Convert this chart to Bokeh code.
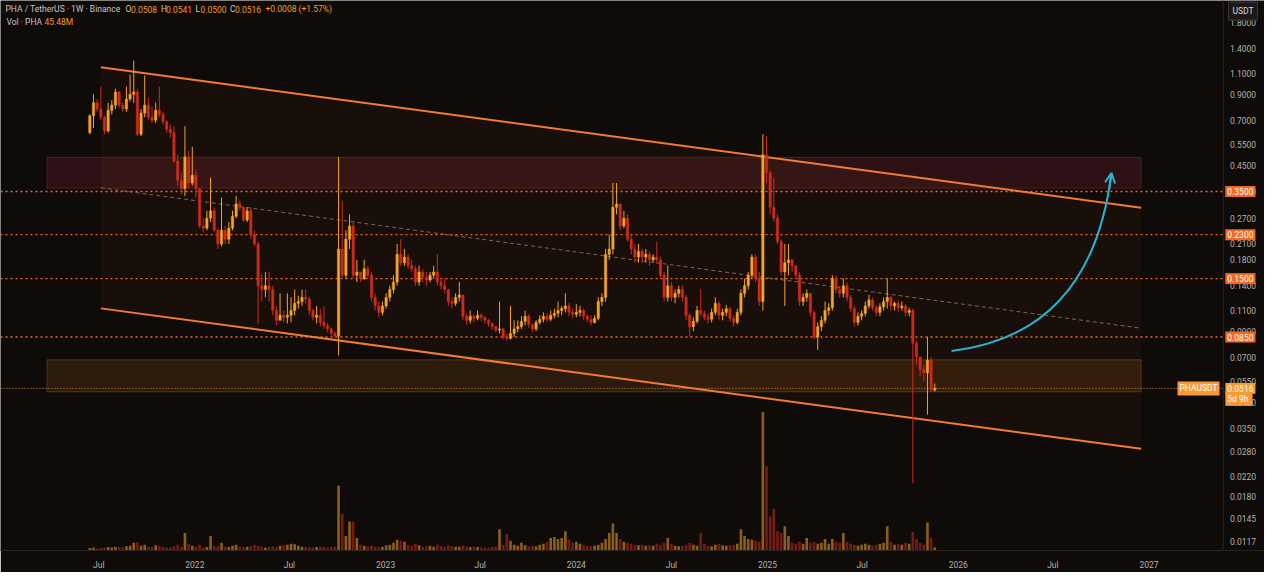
import pandas as pd
from bokeh.plotting import figure
from bokeh.models import (Range1d, FixedTicker, CustomJSTickFormatter, LinearScale,
                          Span, Label, BoxAnnotation, Arrow, OpenHead, ColumnDataSource)
from bokeh.core.properties import value
from bokeh.embed import file_html
from bokeh.resources import INLINE

# ---------------- data (weekly PHA/USDT) ----------------
FIRST_OPEN = 0.62
LAST_WEEK = "2025-11-17"

CLOSE = [
    0.73, 0.83, 0.78, 0.72, 0.63, 0.77, 0.81, 0.92, 0.81, 0.78, 0.86, 0.90,
    0.92, 0.61, 0.75, 0.81, 0.72, 0.70, 0.77, 0.74, 0.69, 0.64, 0.62, 0.47,
    0.39, 0.36, 0.49, 0.38, 0.41, 0.36, 0.25, 0.245, 0.27, 0.29, 0.24, 0.21,
    0.24, 0.22, 0.245, 0.275, 0.31, 0.30, 0.265, 0.29, 0.23, 0.21,
    0.14, 0.135, 0.14, 0.135, 0.11, 0.10, 0.105, 0.103, 0.105, 0.11, 0.118, 0.12,
    0.125, 0.123, 0.11, 0.103, 0.105, 0.098, 0.095, 0.092, 0.088, 0.086, 0.20, 0.155,
    0.22, 0.25, 0.155, 0.16, 0.15, 0.165, 0.155, 0.125, 0.115, 0.108, 0.115, 0.125,
    0.135, 0.145, 0.19, 0.175, 0.185, 0.17, 0.165, 0.145, 0.16,
    0.152, 0.148, 0.155, 0.16, 0.145, 0.14, 0.135, 0.12, 0.118, 0.125, 0.128, 0.104,
    0.10, 0.104, 0.102, 0.105, 0.103, 0.100, 0.097, 0.094, 0.091, 0.092, 0.085, 0.084,
    0.088, 0.092, 0.094, 0.099, 0.104, 0.096, 0.092, 0.098, 0.101, 0.104, 0.101, 0.105,
    0.107, 0.11, 0.112, 0.115, 0.108, 0.106, 0.108, 0.11, 0.104, 0.101, 0.098,
    0.102, 0.12, 0.125, 0.19, 0.20, 0.30, 0.31, 0.25, 0.27, 0.22, 0.20, 0.185,
    0.195, 0.185, 0.19, 0.18, 0.185, 0.18, 0.155, 0.125, 0.14, 0.125, 0.13, 0.135,
    0.125, 0.105, 0.094, 0.099, 0.11, 0.107, 0.103, 0.101, 0.108, 0.118, 0.105, 0.108,
    0.112, 0.102, 0.098, 0.108, 0.13, 0.14, 0.155, 0.185, 0.15, 0.12,
    0.50, 0.42, 0.30, 0.27, 0.215, 0.16, 0.175, 0.18, 0.17, 0.155, 0.12, 0.125,
    0.13, 0.108, 0.085, 0.094, 0.10, 0.11, 0.113, 0.15, 0.135, 0.13, 0.14, 0.125,
    0.112, 0.098, 0.104, 0.107, 0.115, 0.122, 0.113, 0.108, 0.114, 0.12, 0.125, 0.115,
    0.118, 0.113, 0.115, 0.108, 0.11, 0.080, 0.07, 0.062, 0.06, 0.068, 0.0508, 0.0516,
]

HIGH = [
    0.74, 0.90, 0.86, 0.97, 0.73, 0.83, 0.85, 0.95, 0.93, 0.83, 0.97, 1.09,
    1.25, 0.95, 0.78, 1.08, 0.87, 0.80, 0.83, 0.97, 0.76, 0.70, 0.67, 0.66,
    0.50, 0.42, 0.66, 0.52, 0.54, 0.43, 0.36, 0.27, 0.29, 0.40, 0.30, 0.245,
    0.33, 0.25, 0.26, 0.29, 0.335, 0.32, 0.30, 0.30, 0.30, 0.24,
    0.215, 0.157, 0.16, 0.16, 0.14, 0.115, 0.13, 0.11, 0.13, 0.125, 0.135, 0.127,
    0.135, 0.135, 0.126, 0.112, 0.115, 0.112, 0.115, 0.097, 0.093, 0.09, 0.49, 0.32,
    0.24, 0.28, 0.26, 0.18, 0.16, 0.18, 0.17, 0.16, 0.13, 0.12, 0.12, 0.13,
    0.14, 0.155, 0.21, 0.22, 0.20, 0.19, 0.18, 0.17, 0.17,
    0.165, 0.16, 0.16, 0.17, 0.19, 0.15, 0.15, 0.135, 0.125, 0.13, 0.145, 0.128,
    0.107, 0.11, 0.106, 0.11, 0.107, 0.104, 0.101, 0.098, 0.095, 0.12, 0.093, 0.088,
    0.115, 0.10, 0.10, 0.104, 0.11, 0.106, 0.097, 0.10, 0.105, 0.108, 0.107, 0.11,
    0.112, 0.12, 0.115, 0.13, 0.118, 0.112, 0.117, 0.115, 0.112, 0.106, 0.105,
    0.105, 0.125, 0.13, 0.20, 0.23, 0.38, 0.38, 0.31, 0.29, 0.28, 0.23, 0.21,
    0.21, 0.20, 0.20, 0.195, 0.19, 0.215, 0.185, 0.16, 0.17, 0.145, 0.135, 0.14,
    0.14, 0.128, 0.107, 0.103, 0.115, 0.135, 0.11, 0.107, 0.112, 0.125, 0.12, 0.112,
    0.116, 0.114, 0.105, 0.112, 0.135, 0.15, 0.16, 0.19, 0.19, 0.16,
    0.61, 0.60, 0.43, 0.40, 0.28, 0.22, 0.21, 0.21, 0.18, 0.17, 0.16, 0.13,
    0.135, 0.13, 0.11, 0.098, 0.104, 0.12, 0.118, 0.155, 0.155, 0.14, 0.15, 0.145,
    0.128, 0.115, 0.108, 0.11, 0.12, 0.128, 0.125, 0.116, 0.118, 0.125, 0.15, 0.127,
    0.12, 0.122, 0.12, 0.117, 0.113, 0.112, 0.082, 0.07, 0.065, 0.085, 0.07, 0.0541,
]

LOW = [
    0.61, 0.65, 0.76, 0.70, 0.61, 0.62, 0.74, 0.78, 0.79, 0.76, 0.76, 0.84,
    0.83, 0.60, 0.60, 0.72, 0.70, 0.68, 0.68, 0.72, 0.67, 0.62, 0.59, 0.46,
    0.37, 0.34, 0.335, 0.36, 0.37, 0.33, 0.245, 0.235, 0.24, 0.26, 0.235, 0.20,
    0.205, 0.21, 0.21, 0.24, 0.27, 0.29, 0.26, 0.26, 0.22, 0.205,
    0.096, 0.12, 0.125, 0.12, 0.105, 0.095, 0.10, 0.098, 0.097, 0.098, 0.105, 0.112,
    0.115, 0.118, 0.105, 0.10, 0.097, 0.094, 0.092, 0.089, 0.086, 0.084, 0.071, 0.15,
    0.15, 0.20, 0.15, 0.145, 0.145, 0.148, 0.15, 0.12, 0.11, 0.103, 0.105, 0.112,
    0.12, 0.13, 0.14, 0.17, 0.17, 0.165, 0.16, 0.14, 0.14,
    0.145, 0.14, 0.145, 0.15, 0.14, 0.135, 0.13, 0.115, 0.112, 0.115, 0.12, 0.10,
    0.096, 0.097, 0.098, 0.10, 0.099, 0.097, 0.094, 0.091, 0.089, 0.088, 0.083, 0.082,
    0.083, 0.085, 0.089, 0.092, 0.095, 0.093, 0.089, 0.09, 0.096, 0.098, 0.098, 0.099,
    0.102, 0.103, 0.105, 0.108, 0.104, 0.102, 0.103, 0.104, 0.10, 0.098, 0.095,
    0.097, 0.10, 0.115, 0.12, 0.18, 0.19, 0.28, 0.24, 0.245, 0.215, 0.19, 0.175,
    0.175, 0.175, 0.175, 0.17, 0.175, 0.175, 0.15, 0.12, 0.12, 0.12, 0.118, 0.125,
    0.12, 0.10, 0.085, 0.09, 0.097, 0.104, 0.10, 0.097, 0.098, 0.105, 0.10, 0.10,
    0.104, 0.099, 0.094, 0.096, 0.105, 0.125, 0.135, 0.15, 0.145, 0.115,
    0.11, 0.38, 0.28, 0.26, 0.21, 0.155, 0.115, 0.155, 0.16, 0.15, 0.115, 0.115,
    0.12, 0.104, 0.083, 0.075, 0.09, 0.097, 0.105, 0.11, 0.13, 0.125, 0.125, 0.12,
    0.108, 0.094, 0.095, 0.10, 0.104, 0.112, 0.11, 0.104, 0.104, 0.11, 0.112, 0.11,
    0.11, 0.108, 0.11, 0.104, 0.104, 0.0205, 0.065, 0.058, 0.055, 0.04, 0.05, 0.05,
]

VOLUME_M = [
    25, 30, 20, 25, 30, 35, 30, 40, 35, 30, 45, 50,
    80, 85, 50, 60, 40, 35, 55, 50, 35, 30, 30, 45,
    60, 40, 180, 70, 50, 40, 60, 30, 35, 150, 50, 45,
    80, 40, 35, 50, 60, 40, 35, 40, 45, 60,
    50, 40, 30, 35, 45, 40, 50, 55, 60, 70, 65, 50,
    40, 35, 30, 30, 35, 40, 35, 30, 35, 40, 670, 380,
    150, 300, 300, 130, 60, 50, 45, 50, 40, 35, 40, 55,
    60, 80, 110, 100, 90, 60, 50, 70, 55,
    40, 45, 50, 40, 60, 45, 40, 55, 45, 40, 40, 50,
    45, 35, 40, 35, 30, 30, 30, 35, 40, 220, 60, 170,
    100, 60, 50, 80, 55, 45, 50, 45, 60, 70, 90, 130,
    140, 120, 130, 200, 110, 80, 90, 70, 60, 50, 45,
    50, 60, 80, 120, 180, 280, 180, 120, 90, 80, 70, 60,
    55, 60, 50, 55, 50, 70, 60, 80, 130, 70, 50, 45,
    50, 60, 80, 60, 50, 180, 70, 50, 45, 60, 70, 55,
    50, 55, 60, 70, 220, 150, 120, 110, 100, 90,
    1430, 870, 350, 430, 200, 180, 250, 150, 80, 70, 90, 70,
    130, 80, 90, 70, 80, 120, 70, 120, 90, 80, 180, 90,
    70, 60, 50, 60, 70, 60, 50, 60, 70, 80, 250, 90,
    60, 70, 60, 80, 70, 190, 120, 80, 60, 290, 130, 30,
]

Y_TICKS = [1.8, 1.4, 1.1, 0.9, 0.7, 0.55, 0.45, 0.35, 0.27, 0.21, 0.18, 0.14, 0.11,
           0.09, 0.07, 0.055, 0.045, 0.035, 0.028, 0.022, 0.018, 0.0145, 0.0117]
X_TICKS = ["2021-07-01", "2022-01-01", "2022-07-01", "2023-01-01", "2023-07-01",
           "2024-01-01", "2024-07-01", "2025-01-01", "2025-07-01", "2026-01-01",
           "2026-07-01", "2027-01-01"]
LEVELS = [0.35, 0.23, 0.15, 0.085]
LAST_PRICE = 0.0516
TIME_LEFT = "5d 9h"

# drawings (date, price)
CH_T0, CH_T1 = "2021-07-05", "2026-12-17"
CH_UPPER = (1.17, 0.299)
CH_MID = (0.3625, 0.0926)
CH_LOWER = (0.1123, 0.02866)
ZONE_T0, ZONE_T1 = "2021-03-24", "2026-12-17"
RED_ZONE = (0.361, 0.4876)
ORANGE_ZONE = (0.04994, 0.0681)
ARROW_START = ("2025-12-19", 0.0742)
ARROW_CTRL = ("2026-09-13", 0.0871)
ARROW_END = ("2026-10-21", 0.419)
ARROW_HEAD_FROM = ("2026-10-17", 0.358)

# view / price-scale column
VIEW_START, VIEW_END = "2020-12-25", "2027-08-10"
SCALE_EDGE = "2027-05-23"      # border between chart and price scale
SCALE_TAG_X = "2027-05-27"
SCALE_TEXT_X = "2027-06-05"

assert len(CLOSE) == len(HIGH) == len(LOW) == len(VOLUME_M)


def ms(d):
    return pd.Timestamp(d).value / 1e6


DAY = 86400000.0
BG = "#0f0b09"
BULL = "#f5a32c"
BEAR = "#cf2a1e"
LINE_OR = "#f27a36"
TEAL = "#2bb3cf"
FONT = "Roboto"
AXIS_TXT = "#b4b1ae"

dates = pd.date_range(end=LAST_WEEK, periods=len(CLOSE), freq="7D")
xs = [ms(d) for d in dates]
opens = [FIRST_OPEN] + CLOSE[:-1]
colors = [BULL if c >= o else BEAR for o, c in zip(opens, CLOSE)]
src = ColumnDataSource(dict(
    x=xs, open=opens, close=CLOSE, high=HIGH, low=LOW,
    top=[max(o, c) for o, c in zip(opens, CLOSE)],
    bottom=[min(o, c) for o, c in zip(opens, CLOSE)],
    color=colors, vol=VOLUME_M,
))

FW, FH = 1264, 550
p = figure(frame_width=FW, frame_height=FH, x_axis_type="datetime", y_axis_type="log",
           x_range=Range1d(ms(VIEW_START), ms(VIEW_END)),
           y_range=Range1d(0.01067, 2.24), y_axis_location=None,
           toolbar_location=None, output_backend="svg",
           min_border_left=0, min_border_top=0, min_border_right=0, min_border_bottom=18)
p.extra_y_ranges = {"vol": Range1d(0, 5680)}
p.extra_y_scales = {"vol": LinearScale()}
p.background_fill_color = BG
p.border_fill_color = BG
p.outline_line_color = None
p.grid.visible = False

# time axis
p.xaxis.ticker = FixedTicker(ticks=[ms(t) for t in X_TICKS], minor_ticks=[])
p.xaxis.formatter = CustomJSTickFormatter(code="""
    const d = new Date(tick);
    return d.getUTCMonth() == 0 ? String(d.getUTCFullYear()) : "Jul";
""")
p.xaxis.major_label_text_color = AXIS_TXT
p.xaxis.major_label_text_font = FONT
p.xaxis.major_label_text_font_size = "8.5px"
p.xaxis.major_tick_line_color = None
p.xaxis.minor_tick_line_color = None
p.xaxis.axis_line_color = "#2a2421"
p.xaxis.major_label_standoff = 3

# price scale column (right)
p.add_layout(Span(location=ms(SCALE_EDGE), dimension="height", line_color="#2a2421", line_width=1))
p.text(x=[ms(SCALE_TEXT_X)] * len(Y_TICKS), y=Y_TICKS, text=["%.4f" % t for t in Y_TICKS],
       text_color=AXIS_TXT, text_font=value(FONT), text_font_size="8.5px",
       text_baseline="middle", text_align="left")

# channel fill
p.patch(x=[ms(CH_T0), ms(CH_T1), ms(CH_T1), ms(CH_T0)],
        y=[CH_UPPER[0], CH_UPPER[1], CH_LOWER[1], CH_LOWER[0]],
        fill_color="#e07030", fill_alpha=0.045, line_color=None)

# zones
p.add_layout(BoxAnnotation(left=ms(ZONE_T0), right=ms(ZONE_T1), bottom=RED_ZONE[0], top=RED_ZONE[1],
                           fill_color="#a0283a", fill_alpha=0.22, line_color="#b8443e",
                           line_width=1, level="underlay"))
p.add_layout(BoxAnnotation(left=ms(ZONE_T0), right=ms(ZONE_T1), bottom=ORANGE_ZONE[0], top=ORANGE_ZONE[1],
                           fill_color="#c07020", fill_alpha=0.16, line_color="#d9802c",
                           line_width=1, level="underlay"))

# volume
p.vbar(x="x", top="vol", bottom=0, width=5 * DAY, source=src, y_range_name="vol",
       fill_color="color", line_color=None, fill_alpha=0.55)

# level lines (stop at the price scale)
for lv in LEVELS:
    p.line([ms(VIEW_START), ms(SCALE_EDGE)], [lv, lv], line_color="#f06a22",
           line_dash="2 3", line_width=1.4)
p.line([ms(VIEW_START), ms(SCALE_EDGE)], [LAST_PRICE, LAST_PRICE], line_color="#f5a040",
       line_dash="1 2", line_width=1, line_alpha=0.9)

# channel lines
p.line([ms(CH_T0), ms(CH_T1)], list(CH_UPPER), line_color=LINE_OR, line_width=2)
p.line([ms(CH_T0), ms(CH_T1)], list(CH_LOWER), line_color=LINE_OR, line_width=2)
p.line([ms(CH_T0), ms(CH_T1)], list(CH_MID), line_color="#8c6c5a", line_width=1,
       line_dash="4 3", line_alpha=0.9)

# candles
p.segment(x0="x", y0="high", x1="x", y1="low", source=src, line_color="color", line_width=1)
p.vbar(x="x", top="top", bottom="bottom", width=4.5 * DAY, source=src,
       fill_color="color", line_color="color", line_width=0.5)

# arrow
p.quadratic(x0=[ms(ARROW_START[0])], y0=[ARROW_START[1]],
            x1=[ms(ARROW_END[0])], y1=[ARROW_END[1]],
            cx=[ms(ARROW_CTRL[0])], cy=[ARROW_CTRL[1]],
            line_color=TEAL, line_width=2)
p.add_layout(Arrow(end=OpenHead(size=10, line_color=TEAL, line_width=2),
                   x_start=ms(ARROW_HEAD_FROM[0]), y_start=ARROW_HEAD_FROM[1],
                   x_end=ms(ARROW_END[0]), y_end=ARROW_END[1],
                   line_color=TEAL, line_width=2))


# header
def hdr(text, x, row, color):
    y = FH - (9 if row == 0 else 22) * FH / 568
    p.add_layout(Label(x=x, y=y, x_units="screen", y_units="screen", text=text,
                       text_color=color, text_font=FONT, text_font_size="8.5px",
                       text_baseline="middle", text_align="left"))


TXT = "#c9c5c1"
VAL = "#f39a34"
hdr("PHA / TetherUS · 1W · Binance", 5, 0, TXT)
hdr("O", 125, 0, TXT)
hdr("0.0508", 130.5, 0, VAL)
hdr("H", 160.5, 0, TXT)
hdr("0.0541", 165.5, 0, VAL)
hdr("L", 195, 0, TXT)
hdr("0.0500", 200, 0, VAL)
hdr("C", 229.5, 0, TXT)
hdr("0.0516", 234.5, 0, VAL)
hdr("+0.0008 (+1.57%)", 265, 0, VAL)
hdr("Vol · PHA", 6, 1, TXT)
hdr("45.48M", 44, 1, VAL)


# right-side tags
def tag(text, y, bg, x=None, align="left"):
    p.add_layout(Label(x=ms(SCALE_TAG_X) if x is None else x, y=y, x_units="data", y_units="data",
                       text=text, text_color="#ffffff", text_font=FONT, text_font_size="8.5px",
                       text_baseline="middle", text_align=align,
                       background_fill_color=bg, background_fill_alpha=1.0, padding=2))


for lv in LEVELS:
    tag("%.4f" % lv, lv, "#f06a22")
tag("%.4f" % LAST_PRICE, LAST_PRICE, "#f59a36")
tag(TIME_LEFT + " ", 0.0466, "#f59a36")
tag("PHAUSDT", LAST_PRICE, "#f59a36", x=ms("2027-05-16"), align="right")

p.add_layout(Label(x=ms("2027-06-02"), y=FH - 11 * FH / 568, x_units="data", y_units="screen",
                   text="USDT", text_color="#d8d4d0", text_font=FONT, text_font_size="8.5px",
                   text_baseline="middle", text_align="left",
                   background_fill_color="#1d1917", border_line_color="#3e3835",
                   padding=4))

open("out.html", "w").write(file_html(p, INLINE))
